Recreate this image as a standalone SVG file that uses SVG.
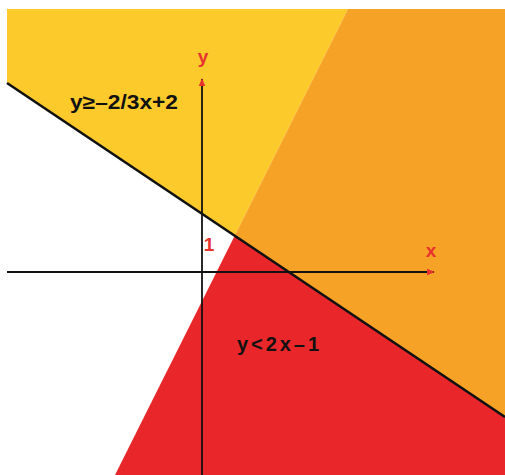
<svg xmlns="http://www.w3.org/2000/svg" width="505" height="475" viewBox="0 0 505 475">
  <style>
    .lbl { font-family: "Liberation Sans", Arial, sans-serif; font-weight: bold; }
    .red { fill: #E8322E; }
    .blk { fill: #111111; }
    .axis { stroke: #111111; stroke-width: 1.8; fill: none; }
    .bound { stroke: #111111; stroke-width: 2.6; fill: none; }
  </style>
  <defs>
    <marker id="arr" viewBox="0 0 8 8" refX="7" refY="4" markerWidth="8" markerHeight="8" markerUnits="userSpaceOnUse" orient="auto">
      <path d="M0,0.8 L8,4 L0,7.2 Z" fill="#E8322E"/>
    </marker>
  </defs>
  <rect width="505" height="475" fill="#FFFFFF"/>
  <g id="regions">
    <polygon id="yellow" points="7,9 348,9 234.7,235.7 7,83" fill="#FCCB2B"/>
    <polygon id="orange" points="348,9 505,9 505,417 234.7,235.7" fill="#F5A226"/>
    <polygon id="red" points="234.7,235.7 505,417 505,475 115,475" fill="#E9272A"/>
  </g>
  <g id="connectors">
    <line class="axis" x1="202" y1="475" x2="202" y2="79" marker-end="url(#arr)"/>
    <line class="axis" x1="7" y1="272" x2="434" y2="272" marker-end="url(#arr)"/>
    <line class="bound" x1="7" y1="83" x2="505" y2="417"/>
  </g>
  <g id="label-y"><text class="lbl red" x="203" y="63" font-size="19" text-anchor="middle">y</text></g>
  <g id="label-x"><text class="lbl red" x="431" y="257" font-size="19" text-anchor="middle">x</text></g>
  <g id="label-1"><text class="lbl red" x="209" y="251" font-size="19" text-anchor="middle">1</text></g>
  <g id="ineq1"><text class="lbl blk" x="70" y="109" font-size="20" textLength="108" lengthAdjust="spacingAndGlyphs">y≥–2/3x+2</text></g>
  <g id="ineq2"><text class="lbl blk" x="237" y="351" font-size="20" textLength="82" lengthAdjust="spacing">y&lt;2x–1</text></g>
</svg>
